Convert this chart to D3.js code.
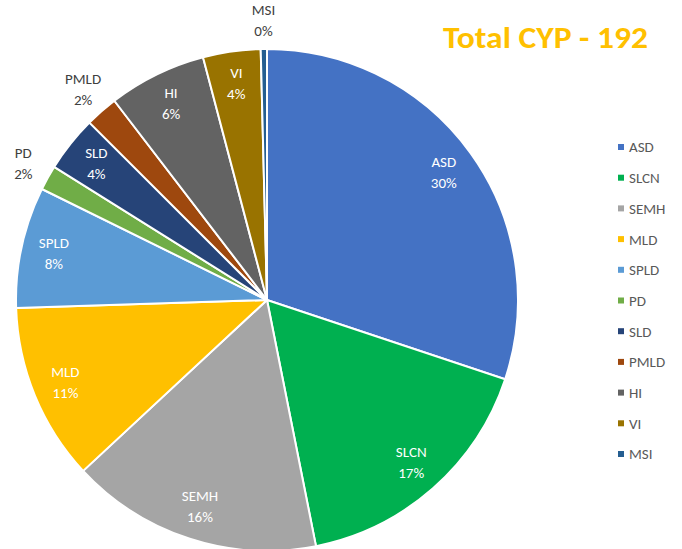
<!DOCTYPE html>
<html><head><meta charset="utf-8">
<script src="https://cdn.jsdelivr.net/npm/d3@7"></script>
<style>
body{margin:0;background:#fff;}
svg{display:block;font-family:Carlito, Lato, "Liberation Sans", sans-serif;}
</style></head>
<body><svg id="c" width="682" height="549"></svg>
<script>
const categories = ["ASD","SLCN","SEMH","MLD","SPLD","PD","SLD","PMLD","HI","VI","MSI"];
const values = [30.1,16.75,16.2,11.4,7.8,1.6,3.6,2.1,6.3,3.7,0.4];
const colors = ["#4472C4","#00B050","#A5A5A5","#FFC000","#5B9BD5","#70AD47","#264478","#9E480E","#636363","#997300","#255E91"];
const outsideLabels = ["PD","PMLD","MSI"];
const titleText = "Total CYP - 192";

const svg = d3.select("#c");
const cx = 267, cy = 300, R = 251;
const data = categories.map((c,i)=>({cat:c, v:values[i], col:colors[i]}));
const total = d3.sum(values);
const pie = d3.pie().value(d=>d.v).sort(null);
const arcs = pie(data);
const arc = d3.arc().innerRadius(0).outerRadius(R);
const g = svg.append("g").attr("transform",`translate(${cx},${cy})`);
g.selectAll("path").data(arcs).join("path")
  .attr("d",arc).attr("fill",d=>d.data.col)
  .attr("stroke","#fff").attr("stroke-width",2).attr("stroke-linejoin","round");

const inArc = d3.arc().innerRadius(218).outerRadius(218);
const outArc = d3.arc().innerRadius(279).outerRadius(279);
const lab = g.selectAll("text.lab").data(arcs).join("text").attr("class","lab")
  .attr("text-anchor","middle").attr("font-size",15)
  .attr("fill",d=>outsideLabels.includes(d.data.cat)?"#404040":"#fff")
  .attr("transform",d=>{const p=(outsideLabels.includes(d.data.cat)?outArc:inArc).centroid(d);return `translate(${p[0]},${p[1]})`;});
lab.append("tspan").attr("x",0).attr("dy","-0.4em").text(d=>d.data.cat);
lab.append("tspan").attr("x",0).attr("dy","1.4em").text(d=>Math.round(d.data.v/total*100)+"%");

svg.append("text").attr("x",443).attr("y",48)
  .attr("font-size",30).attr("font-weight","bold").attr("fill","#FFC000")
  .attr("textLength",205).attr("lengthAdjust","spacingAndGlyphs").text(titleText);

const leg = svg.append("g");
const ly = d3.scalePoint().domain(categories).range([147,454]);
const li = leg.selectAll("g").data(data).join("g").attr("transform",d=>`translate(0,${ly(d.cat)})`);
li.append("rect").attr("x",618).attr("y",-3).attr("width",6).attr("height",6).attr("fill",d=>d.col);
li.append("text").attr("x",629).attr("y",0).attr("dy","0.36em").attr("font-size",15).attr("fill","#595959").text(d=>d.cat);
</script></body></html>
